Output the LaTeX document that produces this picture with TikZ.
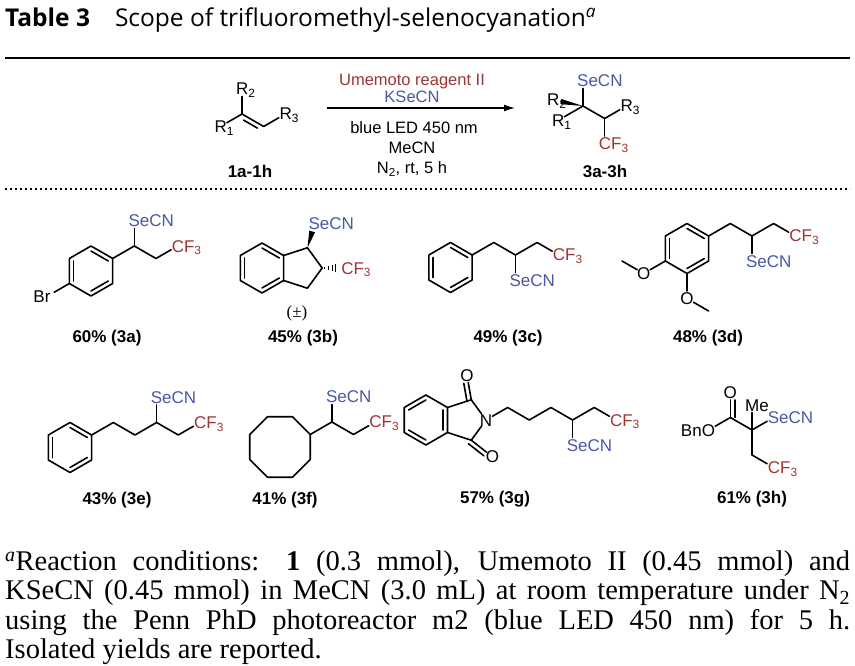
\documentclass[tikz,border=0pt]{standalone}
\usepackage{fontspec}
\setmainfont{Liberation Serif}
\newfontfamily\chemsans{Liberation Sans}
\newfontfamily\headsans{Open Sans}
\usetikzlibrary{arrows.meta, calc}

\definecolor{secblue}{RGB}{74,88,162}
\definecolor{cfred}{RGB}{158,52,52}

% benzene ring: name, centre, start angle, inner lines
\newcommand{\hexring}[4]{%
  \foreach \k in {1,...,6}
    \coordinate (#1\k) at ($(#2)+({#3+60*\k}:25)$);
  \draw[bond] (#11) -- (#12) -- (#13) -- (#14) -- (#15) -- (#16) -- cycle;
  \foreach \a/\b in {#4}
    \draw[bond] ($(#1\a)!.2!(#2)$) -- ($(#1\b)!.2!(#2)$);
}

\begin{document}
\begin{tikzpicture}[x=1pt, y=-1pt, >={Latex[length=11pt,width=7pt]},
    bond/.style={line width=1.6pt, line cap=round, line join=round},
    tol/.style={shorten >=7.5pt},
    frl/.style={shorten <=7.5pt},
    atom/.style={font=\chemsans\fontsize{17}{20}\selectfont, inner sep=0pt},
    lab/.style={atom, anchor=base west, xshift=-6pt, yshift=-6pt},
    labr/.style={atom, anchor=base east, xshift=6.5pt, yshift=-6pt},
    labc/.style={atom, anchor=base, yshift=-6pt},
    secn/.style={text=secblue},
    cfthree/.style={text=cfred},
    cond/.style={font=\chemsans\fontsize{16.5}{20}\selectfont, anchor=base, inner sep=0pt},
    yield/.style={font=\chemsans\bfseries\fontsize{17}{20}\selectfont, anchor=base, inner sep=0pt},
    note/.style={font=\fontsize{28.5}{29}\selectfont, anchor=base west, inner sep=0pt}
  ]
  \useasboundingbox (0,0) rectangle (855,666);

  % title and rules
  \node[anchor=base west, inner sep=0pt, font=\headsans\fontsize{24.5}{28}\selectfont] (title) at (5,27)
    {\textbf{Table 3}\hspace{25pt}Scope of trifluoromethyl-selenocyanation\textsuperscript{\textit{a}}};
  \coordinate (hl0) at (5,58);
  \coordinate (hl1) at (850,58);
  \draw[line width=2.5pt] (hl0) -- (hl1);
  \coordinate (dl0) at (5,189);
  \coordinate (dl1) at (850,189);
  \draw[line width=2pt, dash pattern=on 2pt off 3pt] (dl0) -- (dl1);

  % scheme: alkene
  \coordinate (s1) at (242,114);
  \path (s1) ++(0,-25) coordinate (sR2) (s1) ++(150:25) coordinate (sR1)
        (s1) ++(30:25) coordinate (s2) ++(-30:25) coordinate (sR3);
  \draw[bond, tol] (s1) -- (sR2);
  \draw[bond, tol] (s1) -- (sR1);
  \draw[bond, tol] (s1) -- (s2) -- (sR3);
  \draw[bond] ($(s1)!.18!(s2)!4.5pt!-90:(s2)$) -- ($(s2)!.18!(s1)!4.5pt!90:(s1)$);
  \node[lab] (tsR2) at (sR2) {R\textsubscript{2}};
  \node[lab] (tsR1) at (sR1) {R\textsubscript{1}};
  \node[lab] (tsR3) at (sR3) {R\textsubscript{3}};
  \node[yield] (sub) at (250,178) {1a-1h};

  % scheme: arrow and conditions
  \coordinate (ar0) at (327,108);
  \coordinate (ar1) at (515,108);
  \draw[->, line width=1.3pt] (ar0) -- (ar1);
  \node[cond, text=cfred] (umr) at (412,86) {Umemoto reagent II};
  \node[cond, text=secblue] (kse) at (412,102.5) {KSeCN};
  \node[cond] (led) at (414,134) {blue LED 450 nm};
  \node[cond] (sol) at (412,154) {MeCN};
  \node[cond] (atm) at (412,174) {N\textsubscript{2}, rt, 5 h};

  % scheme: product
  \coordinate (p0) at (583,106);
  \path (p0) ++(0,-25) coordinate (pSe) (p0) ++(-30,-6) coordinate (pR2)
        (p0) ++(150:29) coordinate (pR1) (p0) ++(30:25) coordinate (p1)
        ++(-30:25) coordinate (pR3) (p1) ++(0,25) coordinate (pCF);
  \draw[bond, tol] (p0) -- (pSe);
  \draw[bond, tol] (p0) -- (pR1);
  \fill (p0) -- ($(pR2)!8pt!(p0)!2.6pt!90:(p0)$) -- ($(pR2)!8pt!(p0)!2.6pt!-90:(p0)$) -- cycle;
  \draw[bond] (p0) -- (p1);
  \draw[bond, tol] (p1) -- (pR3);
  \draw[bond, tol] (p1) -- (pCF);
  \node[lab, secn] (tpSe) at (pSe) {SeCN};
  \node[lab] (tpR2) at (pR2) {R\textsubscript{2}};
  \node[lab] (tpR1) at (pR1) {R\textsubscript{1}};
  \node[lab] (tpR3) at (pR3) {R\textsubscript{3}};
  \node[lab, cfthree] (tpCF) at (pCF) {CF\textsubscript{3}};
  \node[yield] (prod) at (605,178) {3a-3h};

  % 3a
  \coordinate (ca) at (91,271);
  \hexring{a}{ca}{-90}{6/1,2/3,4/5}
  \path (a1) ++(-30:25) coordinate (a7) ++(30:25) coordinate (a8) ++(-30:25) coordinate (aCF)
        (a7) ++(0,-25) coordinate (aSe) (a4) ++(150:25) coordinate (aBr);
  \draw[bond, tol] (a1) -- (a7) -- (a8) -- (aCF);
  \draw[bond, tol] (a7) -- (aSe);
  \draw[bond, tol] (a4) -- (aBr);
  \node[lab, secn] (taSe) at (aSe) {SeCN};
  \node[lab, cfthree] (taCF) at (aCF) {CF\textsubscript{3}};
  \node[atom, anchor=base east, xshift=3pt, yshift=-6pt] (taBr) at (aBr) {Br};
  \node[yield] (ya) at (107,342.5) {60\% (3a)};

  % 3b
  \coordinate (cb) at (262,268);
  \hexring{b}{cb}{-90}{6/1,2/3,4/5}
  \path (b1) ++(-18:25) coordinate (b7) ++(54:25) coordinate (b8) ++(126:25) coordinate (b9)
        (b7) ++(7,-24) coordinate (bSe) (b8) ++(25,0) coordinate (bCF);
  \draw[bond] (b1) -- (b7) -- (b8) -- (b9) -- (b2);
  \fill (b7) -- ($(bSe)!8pt!(b7)!3pt!90:(b7)$) -- ($(bSe)!8pt!(b7)!3pt!-90:(b7)$) -- cycle;
  \foreach \t/\w in {.1/1,.25/1.9,.4/2.8,.55/3.7}
    \draw[line width=1.2pt] ($(b8)!\t!(bCF)+(0,-\w)$) -- ($(b8)!\t!(bCF)+(0,\w)$);
  \node[lab, secn] (tbSe) at (bSe) {SeCN};
  \node[lab, cfthree] (tbCF) at (bCF) {CF\textsubscript{3}};
  \node[font=\fontsize{17}{20}\selectfont, inner sep=0pt] (rac) at (297,313) {(±)};
  \node[yield] (yb) at (303,342.5) {45\% (3b)};

  % 3c
  \coordinate (cc) at (450.5,267.5);
  \hexring{c}{cc}{-90}{6/1,2/3,4/5}
  \path (c1) ++(-30:25) coordinate (c7) ++(30:25) coordinate (c8) ++(-30:25) coordinate (c9)
        ++(30:25) coordinate (cCF) (c8) ++(0,25) coordinate (cSe);
  \draw[bond, tol] (c1) -- (c7) -- (c8) -- (c9) -- (cCF);
  \draw[bond, tol] (c8) -- (cSe);
  \node[lab, secn] (tcSe) at (cSe) {SeCN};
  \node[lab, cfthree] (tcCF) at (cCF) {CF\textsubscript{3}};
  \node[yield] (yc) at (508,342.5) {49\% (3c)};

  % 3d
  \coordinate (cd) at (687,248.5);
  \hexring{d}{cd}{-90}{6/1,2/3,4/5}
  \path (d1) ++(-30:25) coordinate (d7) ++(30:25) coordinate (d8) ++(-30:25) coordinate (d9)
        ++(30:25) coordinate (dCF) (d8) ++(0,25) coordinate (dSe)
        (d4) ++(150:25) coordinate (dO1) ++(210:25) coordinate (dMe1)
        (d3) ++(0,25) coordinate (dO2) ++(30:25) coordinate (dMe2);
  \draw[bond, tol] (d1) -- (d7) -- (d8) -- (d9) -- (dCF);
  \draw[bond, tol] (d8) -- (dSe);
  \draw[bond, tol] (d4) -- (dO1);
  \draw[bond, frl] (dO1) -- (dMe1);
  \draw[bond, tol] (d3) -- (dO2);
  \draw[bond, frl] (dO2) -- (dMe2);
  \node[labc] (tdO1) at (dO1) {O};
  \node[labc] (tdO2) at (dO2) {O};
  \node[lab, secn] (tdSe) at (dSe) {SeCN};
  \node[lab, cfthree] (tdCF) at (dCF) {CF\textsubscript{3}};
  \node[yield] (yd) at (708,342.5) {48\% (3d)};

  % 3e
  \coordinate (ce) at (70,447.5);
  \hexring{e}{ce}{-90}{6/1,2/3,4/5}
  \path (e1) ++(-30:25) coordinate (e7) ++(30:25) coordinate (e8) ++(-30:25) coordinate (e9)
        ++(30:25) coordinate (e10) ++(-30:25) coordinate (eCF) (e9) ++(0,-25) coordinate (eSe);
  \draw[bond, tol] (e1) -- (e7) -- (e8) -- (e9) -- (e10) -- (eCF);
  \draw[bond, tol] (e9) -- (eSe);
  \node[lab, secn] (teSe) at (eSe) {SeCN};
  \node[lab, cfthree] (teCF) at (eCF) {CF\textsubscript{3}};
  \node[yield] (ye) at (117,504) {43\% (3e)};

  % 3f
  \coordinate (cf) at (280,447);
  \foreach \k in {0,...,7}
    \coordinate (f\k) at ($(cf)+({22.5+45*\k}:32.7)$);
  \draw[bond] (f0) -- (f1) -- (f2) -- (f3) -- (f4) -- (f5) -- (f6) -- (f7) -- cycle;
  \path (f7) ++(-30:25) coordinate (f8) ++(30:25) coordinate (f9) ++(-30:25) coordinate (fCF)
        (f8) ++(0,-25) coordinate (fSe);
  \draw[bond, tol] (f7) -- (f8) -- (f9) -- (fCF);
  \draw[bond, tol] (f8) -- (fSe);
  \node[lab, secn] (tfSe) at (fSe) {SeCN};
  \node[lab, cfthree] (tfCF) at (fCF) {CF\textsubscript{3}};
  \node[yield] (yf) at (285,504) {41\% (3f)};

  % 3g
  \coordinate (cg) at (425.85,420);
  \hexring{g}{cg}{-90}{5/6,1/2,3/4}
  \path (g1) ++(-18:25) coordinate (g7) ++(54:25) coordinate (gN) ++(126:25) coordinate (g8)
        (g7) ++(-100:25) coordinate (gO1) (g8) ++(38:27) coordinate (gO2)
        (gN) ++(-30:25) coordinate (g9) ++(30:25) coordinate (g10) ++(-30:25) coordinate (g11)
        ++(30:25) coordinate (g12) ++(-30:25) coordinate (g13) ++(30:25) coordinate (gCF)
        (g12) ++(0,25) coordinate (gSe);
  \draw[bond] (g1) -- (g7);
  \draw[bond] (g8) -- (g2);
  \draw[bond, tol] (g7) -- (gN);
  \draw[bond, tol] (g8) -- (gN);
  \draw[bond, tol] (g7) -- (gO1);
  \draw[bond, tol] ($(g7)!4.5pt!90:(gO1)$) -- ($(gO1)!4.5pt!-90:(g7)$);
  \draw[bond, tol] (g8) -- (gO2);
  \draw[bond, tol] ($(g8)!4.5pt!-90:(gO2)$) -- ($(gO2)!4.5pt!90:(g8)$);
  \draw[bond, frl, tol] (gN) -- (g9) -- (g10) -- (g11) -- (g12) -- (g13) -- (gCF);
  \draw[bond, tol] (g12) -- (gSe);
  \node[labc] (tgN) at (gN) {N};
  \node[labc] (tgO1) at (gO1) {O};
  \node[labc] (tgO2) at (gO2) {O};
  \node[lab, secn] (tgSe) at (gSe) {SeCN};
  \node[lab, cfthree] (tgCF) at (gCF) {CF\textsubscript{3}};
  \node[yield] (yg) at (495,503) {57\% (3g)};

  % 3h
  \coordinate (h0) at (752,430);
  \path (h0) ++(210:25) coordinate (h1) ++(0,-25) coordinate (hO1) (h1) ++(150:25) coordinate (hO2)
        (h0) ++(0,-25) coordinate (hMe) (h0) ++(-30:25) coordinate (hSe)
        (h0) ++(0,25) coordinate (h2) ++(30:25) coordinate (hCF);
  \draw[bond, frl] (hO2) -- (h1) -- (h0);
  \draw[bond, tol] (h1) -- (hO1);
  \draw[bond, tol] ($(h1)!4.5pt!-90:(hO1)$) -- ($(hO1)!4.5pt!90:(h1)$);
  \draw[bond, tol] (h0) -- (hMe);
  \draw[bond, tol] (h0) -- (hSe);
  \draw[bond, tol] (h0) -- (h2) -- (hCF);
  \node[labr] (thO2) at (hO2) {BnO};
  \node[labc] (thO1) at (hO1) {O};
  \node[lab, xshift=-1pt] (thMe) at (hMe) {Me};
  \node[lab, secn] (thSe) at (hSe) {SeCN};
  \node[lab, cfthree] (thCF) at (hCF) {CF\textsubscript{3}};
  \node[yield] (yh) at (752,503) {61\% (3h)};

  % footnote
  \node[note] (fn1) at (5,570.5) {\makebox[845pt][s]{\textsuperscript{\textit{a}}Reaction conditions: \textbf{1} (0.3 mmol), Umemoto II (0.45 mmol) and}};
  \node[note] (fn2) at (5,599.5) {\makebox[845pt][s]{KSeCN (0.45 mmol) in MeCN (3.0 mL) at room temperature under \smash{N\textsubscript{2}}}};
  \node[note] (fn3) at (5,629.5) {\makebox[845pt][s]{using the Penn PhD photoreactor m2 (blue LED 450 nm) for 5 h.}};
  \node[note] (fn4) at (5,658.5) {Isolated yields are reported.};
\end{tikzpicture}
\end{document}
